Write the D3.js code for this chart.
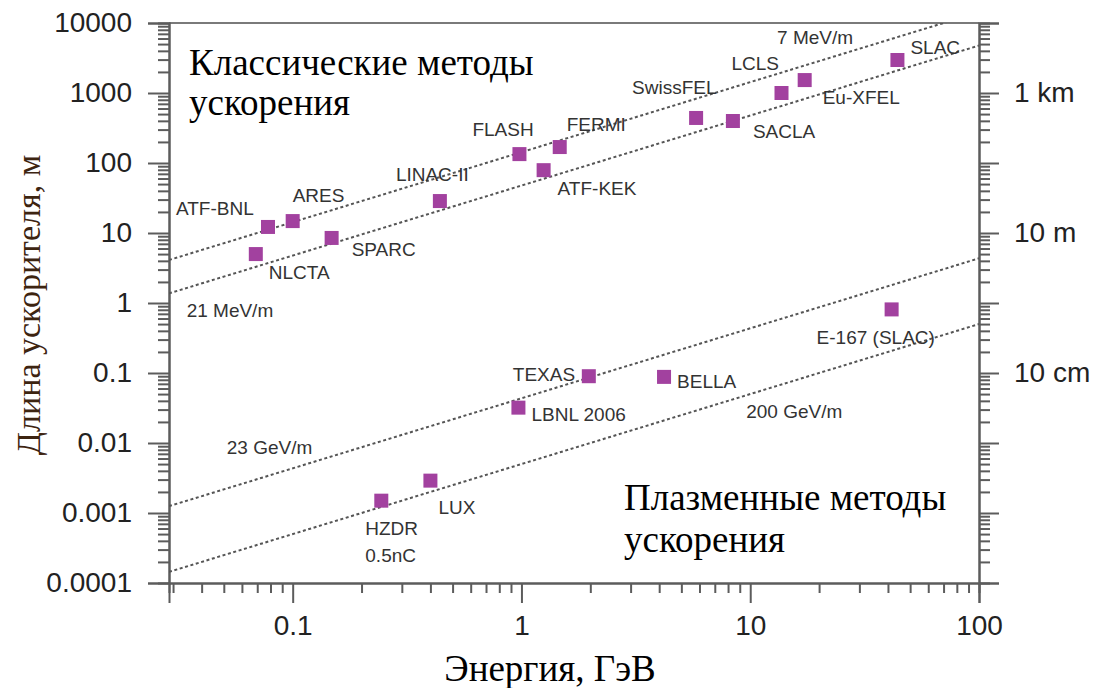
<!DOCTYPE html>
<html>
<head>
<meta charset="utf-8">
<script src="https://cdn.jsdelivr.net/npm/d3@7"></script>
<style>
  body { margin: 0; background: #fff; }
  svg { display: block; }
</style>
</head>
<body>
<svg id="chart" width="1099" height="688"></svg>
<script>
// classic accelerators (energy in GeV, length in m)
const classicNames = ["ATF-BNL", "ARES", "NLCTA", "SPARC", "LINAC-II", "FLASH", "FERMI", "ATF-KEK",
                      "SwissFEL", "SACLA", "LCLS", "Eu-XFEL", "SLAC"];
const classicEnergy = [0.078, 0.1, 0.069, 0.148, 0.44, 0.98, 1.47, 1.25, 5.8, 8.4, 13.7, 17.3, 44];
const classicLength = [12.2, 14.8, 5.0, 8.5, 28.6, 134, 169, 79, 440, 398, 1000, 1530, 2960];

// plasma accelerators
const plasmaNames = ["TEXAS", "BELLA", "LBNL 2006", "LUX", "HZDR", "E-167 (SLAC)"];
const plasmaEnergy = [1.97, 4.2, 0.97, 0.4, 0.244, 41.5];
const plasmaLength = [0.09, 0.088, 0.032, 0.0029, 0.0015, 0.81];

// constant-gradient guide lines, GeV/m
const gradientValues = [0.007, 0.021, 23, 200];
const gradientLabels = ["7 MeV/m", "21 MeV/m", "23 GeV/m", "200 GeV/m"];
const gradientLabelEnergy = [13.1, 0.0344, 0.0515, 9.6];
const gradientLabelLength = [5000, 0.63, 0.007, 0.0228];

// axes
const xTicks = [0.1, 1, 10, 100];
const xTickLabels = ["0.1", "1", "10", "100"];
const yTicks = [0.0001, 0.001, 0.01, 0.1, 1, 10, 100, 1000, 10000];
const yTickLabels = ["0.0001", "0.001", "0.01", "0.1", "1", "10", "100", "1000", "10000"];
const rightTicks = [0.1, 10, 1000];
const rightTickLabels = ["10 cm", "10 m", "1 km"];

const plotLeft = 169, plotRight = 979, plotTop = 23, plotBottom = 583;
const sansFont = "'Liberation Sans', Arial, sans-serif";
const serifFont = "'Liberation Serif', 'Times New Roman', serif";
const axisColor = "#5c5c5c";
const pointColor = "#a2419f";

// where each point label sits relative to its square (px)
const labelOffsets = {
    "ATF-BNL": [-92, -12], "ARES": [0, -19], "NLCTA": [13, 25], "SPARC": [20, 18],
    "LINAC-II": [-44, -20], "FLASH": [-47, -18], "FERMI": [7, -16], "ATF-KEK": [14, 25],
    "SwissFEL": [-64, -24], "SACLA": [20, 17], "LCLS": [-50, -23], "Eu-XFEL": [18, 24],
    "SLAC": [13, -6], "TEXAS": [-76, 5], "BELLA": [13, 11], "LBNL 2006": [13, 13],
    "LUX": [8, 33], "HZDR": [-16, 34], "E-167 (SLAC)": [-75, 35]
};

const svg = d3.select("#chart");

const x = d3.scaleLog().domain([0.0288, 100]).range([plotLeft, plotRight]);
const y = d3.scaleLog().domain([0.0001, 10000]).range([plotBottom, plotTop]);

function minorTicks(lo, hi) {
    let out = [];
    for (let d = lo; d < hi * 0.99; d *= 10) {
        for (let k = 2; k <= 9; k++) {
            out.push(+(d * k).toPrecision(3));
        }
    }
    return out;
}

const xMinor = minorTicks(0.01, 100).filter(v => v >= x.domain()[0]);
const yMinor = minorTicks(0.0001, 10000);

svg.append("clipPath")
    .attr("id", "plot-clip")
    .append("rect")
    .attr("x", plotLeft)
    .attr("y", plotTop)
    .attr("width", plotRight - plotLeft)
    .attr("height", plotBottom - plotTop);

// top frame line
svg.append("line")
    .attr("x1", plotLeft).attr("x2", plotRight)
    .attr("y1", plotTop).attr("y2", plotTop)
    .attr("stroke", "#7a7a7a")
    .attr("stroke-width", 2);

function styleAxis(g) {
    g.select(".domain").attr("stroke", axisColor).attr("stroke-width", 2);
    g.selectAll(".tick line").attr("stroke", axisColor).attr("stroke-width", 2);
    g.selectAll(".tick text")
        .attr("fill", "#222")
        .style("font-family", sansFont)
        .style("font-size", "28px");
}

// minor ticks first, then major ones on top
svg.append("g")
    .attr("transform", "translate(" + plotLeft + ",0)")
    .call(d3.axisLeft(y).tickValues(yMinor).tickSize(11).tickFormat(""))
    .call(styleAxis);

svg.append("g")
    .attr("transform", "translate(" + plotRight + ",0)")
    .call(d3.axisRight(y).tickValues(yMinor).tickSize(11).tickFormat(""))
    .call(styleAxis);

svg.append("g")
    .attr("transform", "translate(0," + plotBottom + ")")
    .call(d3.axisBottom(x).tickValues(xMinor).tickSize(10).tickFormat(""))
    .call(styleAxis);

svg.append("g")
    .attr("transform", "translate(" + plotLeft + ",0)")
    .call(d3.axisLeft(y).tickValues(yTicks).tickSize(21).tickPadding(16)
        .tickFormat((d, i) => yTickLabels[i]))
    .call(styleAxis);

svg.append("g")
    .attr("transform", "translate(" + plotRight + ",0)")
    .call(d3.axisRight(y).tickValues(yTicks).tickSize(20).tickPadding(15)
        .tickFormat(d => {
            let i = rightTicks.findIndex(v => Math.abs(v - d) < d * 1e-6);
            return i >= 0 ? rightTickLabels[i] : "";
        }))
    .call(styleAxis);

svg.append("g")
    .attr("transform", "translate(0," + plotBottom + ")")
    .call(d3.axisBottom(x).tickValues(xTicks).tickSize(20).tickPadding(12)
        .tickFormat((d, i) => xTickLabels[i]))
    .call(styleAxis);

// gradient lines
const plot = svg.append("g").attr("clip-path", "url(#plot-clip)");

gradientValues.forEach(function (g) {
    let ends = x.domain().map(e => ({e: e, l: e / g}));
    plot.append("path")
        .datum(ends)
        .attr("fill", "none")
        .attr("stroke", "#555")
        .attr("stroke-width", 2)
        .attr("stroke-dasharray", "3,2.6")
        .attr("d", d3.line().x(d => x(d.e)).y(d => y(d.l)));
});

svg.selectAll(".grad-label")
    .data(gradientLabels)
    .enter().append("text")
    .attr("class", "grad-label")
    .attr("x", (d, i) => x(gradientLabelEnergy[i]))
    .attr("y", (d, i) => y(gradientLabelLength[i]))
    .attr("fill", "#333")
    .style("font-family", sansFont)
    .style("font-size", "19px")
    .text(d => d);

// points
const points = classicNames.map((n, i) => ({name: n, e: classicEnergy[i], l: classicLength[i]}))
    .concat(plasmaNames.map((n, i) => ({name: n, e: plasmaEnergy[i], l: plasmaLength[i]})));

svg.selectAll(".pt")
    .data(points)
    .enter().append("rect")
    .attr("class", "pt")
    .attr("x", d => x(d.e) - 7)
    .attr("y", d => y(d.l) - 7)
    .attr("width", 14)
    .attr("height", 14)
    .attr("fill", pointColor);

svg.selectAll(".pt-label")
    .data(points)
    .enter().append("text")
    .attr("class", "pt-label")
    .attr("x", d => x(d.e) + labelOffsets[d.name][0])
    .attr("y", d => y(d.l) + labelOffsets[d.name][1])
    .attr("fill", "#333")
    .style("font-family", sansFont)
    .style("font-size", "19px")
    .text(d => d.name);

// second line under HZDR
let hz = points.find(d => d.name === "HZDR");
svg.append("text")
    .attr("x", x(hz.e) + labelOffsets["HZDR"][0])
    .attr("y", y(hz.l) + labelOffsets["HZDR"][1] + 27)
    .attr("fill", "#333")
    .style("font-family", sansFont)
    .style("font-size", "19px")
    .text("0.5nC");

// region titles
function addTitle(lines, tx, ty, step) {
    let t = svg.append("text")
        .attr("fill", "#000")
        .style("font-family", serifFont)
        .style("font-size", "37px");
    lines.forEach(function (line, i) {
        t.append("tspan").attr("x", tx).attr("y", ty + i * step).text(line);
    });
}
addTitle(["Классические методы", "ускорения"], 189, 75, 40);
addTitle(["Плазменные методы", "ускорения"], 624, 510, 42);

// axis titles
svg.append("text")
    .attr("x", 550)
    .attr("y", 681)
    .attr("text-anchor", "middle")
    .attr("fill", "#000")
    .style("font-family", serifFont)
    .style("font-size", "37px")
    .text("Энергия, ГэВ");

svg.append("text")
    .attr("transform", "translate(40," + 305 + ") rotate(-90)")
    .attr("text-anchor", "middle")
    .attr("fill", "#3d2410")
    .style("font-family", serifFont)
    .style("font-size", "34px")
    .text("Длина ускорителя, м");
</script>
</body>
</html>
